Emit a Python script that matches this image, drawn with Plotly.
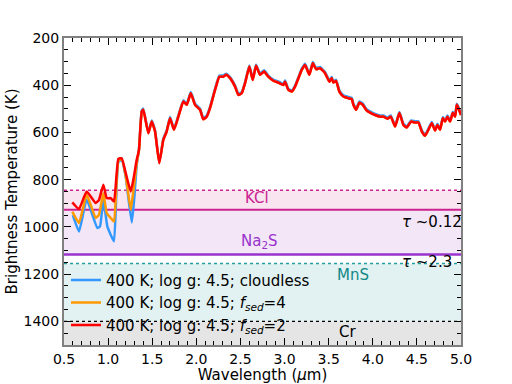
import plotly.graph_objects as go

# short-wavelength part, where the three models differ
wl_red_short = [0.594, 0.670, 0.757, 0.859, 0.897, 0.946, 0.984, 1.029, 1.067, 1.116, 1.154, 1.200, 1.256, 1.286, 1.324]
t_red_short = [896, 924, 850, 899, 885, 821, 878, 878, 892, 712, 709, 772, 850, 800, 716]

wl_orange_short = [0.594, 0.670, 0.757, 0.859, 0.897, 0.946, 0.984, 1.029, 1.067, 1.116, 1.154, 1.200, 1.256, 1.286, 1.324]
t_orange_short = [935, 983, 864, 962, 948, 857, 941, 962, 977, 720, 712, 785, 927, 850, 730]

wl_blue_short = [0.600, 0.670, 0.757, 0.878, 0.908, 0.946, 0.991, 1.029, 1.067, 1.116, 1.154, 1.200, 1.268, 1.296, 1.324]
t_blue_short = [950, 1019, 885, 1005, 998, 885, 998, 1033, 1061, 725, 716, 790, 981, 880, 740]

# long-wavelength part, nearly identical for all models
wl_long = [1.350, 1.381, 1.399, 1.456, 1.494, 1.532, 1.580, 1.626, 1.664, 1.702,
           1.747, 1.796, 1.853, 1.891, 1.937, 1.985, 2.042, 2.079, 2.118, 2.155,
           2.212, 2.261, 2.306, 2.337, 2.382, 2.439, 2.476, 2.515, 2.552, 2.601,
           2.639, 2.677, 2.722, 2.768, 2.816, 2.873, 2.930, 2.986, 3.006, 3.043,
           3.082, 3.119, 3.195, 3.232, 3.281, 3.320, 3.357, 3.402, 3.459, 3.508,
           3.535, 3.553, 3.584, 3.621, 3.667, 3.723, 3.762, 3.780, 3.811, 3.848,
           3.887, 3.924, 3.969, 4.026, 4.083, 4.120, 4.166, 4.204, 4.253, 4.302,
           4.347, 4.385, 4.434, 4.479, 4.517, 4.556, 4.593, 4.630, 4.669, 4.706,
           4.732, 4.763, 4.794, 4.820, 4.846, 4.876, 4.907, 4.933, 4.952, 4.971, 5.000]
t_red_long = [674, 512, 504, 603, 554, 596, 730, 631, 596, 540,
              589, 533, 469, 483, 434, 483, 504, 544, 533, 497,
              420, 364, 364, 356, 370, 406, 441, 434, 392, 321,
              378, 318, 356, 342, 364, 381, 389, 399, 385, 420,
              427, 406, 335, 314, 356, 307, 332, 328, 349, 385,
              370, 389, 382, 427, 448, 455, 459, 483, 504, 474,
              483, 504, 516, 526, 533, 533, 542, 533, 575, 518,
              568, 579, 554, 558, 558, 596, 614, 589, 561, 592,
              568, 589, 540, 554, 533, 554, 518, 533, 483, 497, 526]
t_blue_long = [669, 507, 499, 598, 549, 591, 727, 626, 591, 535,
               584, 528, 464, 478, 429, 478, 499, 539, 528, 492,
               415, 359, 359, 351, 365, 401, 436, 429, 387, 316,
               373, 313, 351, 337, 359, 376, 384, 394, 380, 415,
               422, 401, 330, 309, 351, 302, 327, 323, 344, 380,
               365, 384, 377, 422, 443, 450, 454, 478, 499, 469,
               478, 499, 511, 521, 528, 528, 537, 528, 570, 513,
               563, 574, 549, 553, 553, 591, 609, 584, 556, 587,
               563, 584, 535, 549, 528, 549, 513, 528, 478, 492, 521]

series_names = ["400 K; log g: 4.5; cloudless",
                "400 K; log g: 4.5; <i>f</i><sub><i>sed</i></sub>=4",
                "400 K; log g: 4.5; <i>f</i><sub><i>sed</i></sub>=2"]
series_colors = ["#3399ff", "#ff9900", "#ff0000"]

# cloud condensation temperatures (K)
t_kcl_top = 845
t_kcl = 927
t_na2s = 1117
t_mns = 1155
t_cr = 1400
t_bottom = 1500

FONT = "DejaVu Sans"

fig = go.Figure()

xs = [wl_blue_short + wl_long, wl_orange_short + wl_long, wl_red_short + wl_long]
ys = [t_blue_short + t_blue_long, t_orange_short + t_red_long, t_red_short + t_red_long]
for x, y, name, color in zip(xs, ys, series_names, series_colors):
    fig.add_trace(go.Scatter(x=x, y=y, mode='lines', name=name,
                             line=dict(color=color, width=2.5, shape='spline', smoothing=0.4)))

# cloud bands
bands = [(t_kcl_top, t_kcl, "#f8e5f0"), (t_kcl, t_na2s, "#f3e6f7"),
         (t_mns, t_cr, "#e2f1f1"), (t_cr, t_bottom, "#e5e5e5")]
for y0, y1, c in bands:
    fig.add_shape(type="rect", xref="paper", x0=0, x1=1, yref="y", y0=y0, y1=y1,
                  fillcolor=c, line_width=0, layer="below")

lines = [(t_kcl_top, "#cc2290", "dot", 1.5), (t_kcl, "#cc2290", "solid", 2),
         (t_na2s, "#9933cc", "solid", 2.5), (t_mns, "#22a0a0", "dot", 1.5),
         (t_cr, "#000000", "dot", 1.2)]
for yv, c, d, w in lines:
    fig.add_shape(type="line", xref="paper", x0=0, x1=1, yref="y", y0=yv, y1=yv,
                  line=dict(color=c, dash=d, width=w), layer="below")

labels = [(2.69, 876, "KCl", "#cc2290", "center"),
          (2.72, 1062, "Na<sub>2</sub>S", "#9933cc", "center"),
          (3.78, 1202, "MnS", "#108888", "center"),
          (3.71, 1443, "Cr", "#000000", "center"),
          (4.31, 978, "<i>τ</i> ~0.12", "#000000", "left"),
          (4.31, 1147, "<i>τ</i> ~2.3", "#000000", "left")]
for x, y, text, c, anchor in labels:
    fig.add_annotation(x=x, y=y, text=text, showarrow=False, xanchor=anchor, yanchor="middle",
                       font=dict(family=FONT, size=15, color=c))

fig.update_layout(
    width=512, height=384,
    margin=dict(l=64, r=51, t=38, b=39),
    plot_bgcolor="#ffffff", paper_bgcolor="#ffffff",
    font=dict(family=FONT, size=14, color="#000000"),
    showlegend=True,
    legend=dict(x=0.005, y=0.265, xanchor="left", yanchor="top", bgcolor="rgba(0,0,0,0)",
                font=dict(family=FONT, size=15), tracegroupgap=0),
)
fig.update_xaxes(range=[0.5, 5.0], dtick=0.5, tick0=0.5, tickformat=".1f", automargin=False,
                 ticks="inside", ticklen=7, tickcolor="#000000", showline=True, linewidth=2,
                 linecolor="#808080", mirror="allticks", showgrid=False, zeroline=False,
                 minor=dict(dtick=0.1, ticks="inside", ticklen=4, tickcolor="#000000"),
                 title=dict(text="Wavelength (<i>μ</i>m)", standoff=0, font=dict(size=15)),
                 tickfont=dict(size=14))
fig.update_yaxes(range=[1500, 200], dtick=200, tick0=200, automargin=False,
                 ticks="inside", ticklen=7, tickcolor="#000000", showline=True, linewidth=2,
                 linecolor="#808080", mirror="allticks", showgrid=False, zeroline=False,
                 minor=dict(dtick=50, ticks="inside", ticklen=4, tickcolor="#000000"),
                 title=dict(text="Brightness Temperature (K)", standoff=2, font=dict(size=15)),
                 tickfont=dict(size=14))

# drop the default page margin so the figure sits at the window corner
fig.write_html("out.html", config={"displayModeBar": False},
               post_script="document.body.style.margin='0';document.body.style.overflow='hidden';")
